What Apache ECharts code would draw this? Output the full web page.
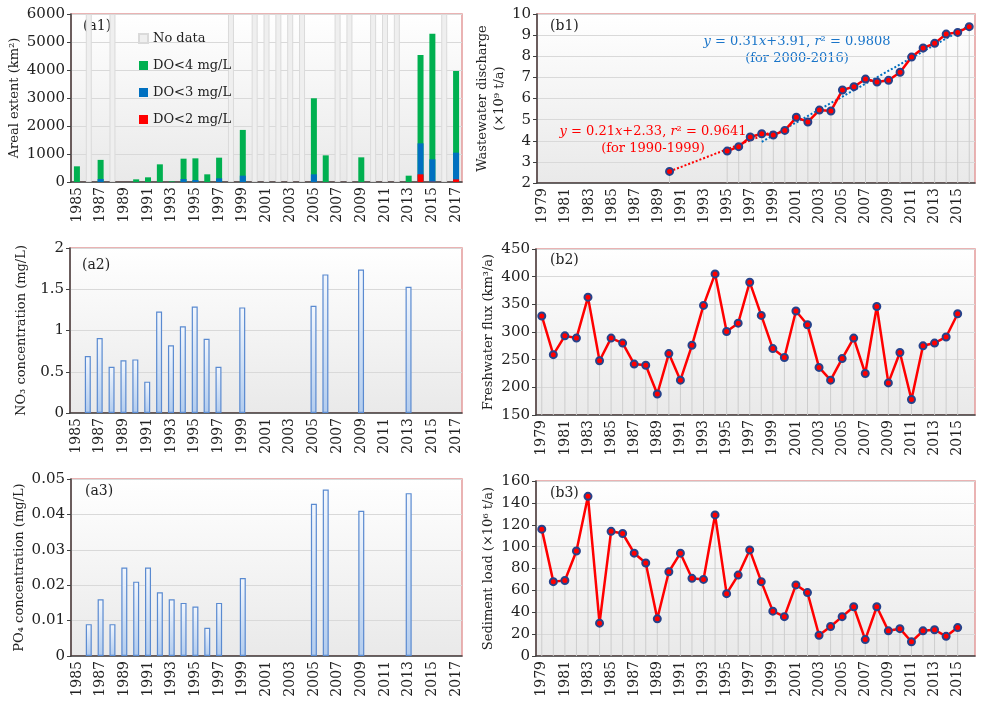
<!DOCTYPE html>
<html>
<head>
<meta charset="utf-8">
<script src="https://cdn.jsdelivr.net/npm/echarts@6/dist/echarts.min.js"></script>
<style>html,body{margin:0;padding:0;background:#fff}#main{width:986px;height:707px}</style>
</head>
<body>
<div id="main"></div>
<script>
const FONT = 'DejaVu Serif';

// categories
const yearsA = [];
for (let y = 1985; y <= 2017; y++) yearsA.push(String(y));
const yearsB = [];
for (let y = 1979; y <= 2016; y++) yearsB.push(String(y));

// (a1) hypoxia areal extent, km2
const noDataYears = [1986, 1988, 1998, 2000, 2001, 2002, 2003, 2004, 2007, 2008, 2010, 2011, 2012, 2016];
const noDataHeight = 6000;
const do4 = [560, null, 790, null, 0, 95, 167, 631, 24, 833, 845, 274, 869, null, 1860,
  null, null, null, null, null, 2990, 952, null, null, 881, null, null, null, 226, 4536, 5298, null, 3964];
const do3 = [null, null, 107, null, null, null, null, null, null, 107, 71, null, 131, null, 226,
  null, null, null, null, null, 274, null, null, null, null, null, null, null, null, 1381, 810, null, 1048];
const do2 = [null, null, null, null, null, null, null, null, null, null, null, null, null, null, null,
  null, null, null, null, null, null, null, null, null, null, null, null, null, null, 274, 10, null, 95];

// (a2) NO3, (a3) PO4, mg/L
const no3 = [null, 0.69, 0.91, 0.56, 0.64, 0.65, 0.38, 1.23, 0.82, 1.05, 1.29, 0.90, 0.56, null, 1.28,
  null, null, null, null, null, 1.30, 1.68, null, null, 1.74, null, null, null, 1.53, null, null, null, null];
const po4 = [null, 0.009, 0.016, 0.009, 0.025, 0.021, 0.025, 0.018, 0.016, 0.015, 0.014, 0.008, 0.015, null, 0.022,
  null, null, null, null, null, 0.043, 0.047, null, null, 0.041, null, null, null, 0.046, null, null, null, null];

// (b1) wastewater discharge, 1979-2016
const wastewater = [null, null, null, null, null, null, null, null, null, null, null, 2.55, null, null, null, null,
  3.51, 3.72, 4.18, 4.33, 4.27, 4.49, 5.11, 4.89, 5.45, 5.41, 6.40, 6.56, 6.92, 6.78, 6.86, 7.24, 7.96, 8.39, 8.61, 9.05, 9.13, 9.40];
const redTrend = [[1990, 2.55], [1999, 4.44]];
const blueTrend = [[1998, 3.95], [2016, 9.45]];

// (b2) freshwater flux, (b3) sediment load, 1979-2015
const freshwater = [329, 259, 293, 289, 363, 248, 289, 280, 242, 240, 188, 261, 213, 276, 348, 405, 301, 316, 390, 330,
  270, 254, 338, 313, 236, 213, 252, 289, 225, 346, 208, 263, 178, 275, 280, 291, 333, null];
const sediment = [116, 68, 69, 96, 146, 30, 114, 112, 94, 85, 34, 77, 94, 71, 70, 129, 57, 74, 97, 68,
  41, 36, 65, 58, 19, 27, 36, 45, 15, 45, 23, 25, 13, 23, 24, 18, 26, null];

const chart = echarts.init(document.getElementById('main'));

const plotBg = new echarts.graphic.LinearGradient(0, 0, 0, 1, [
  {offset: 0, color: '#ffffff'}, {offset: 1, color: '#e9e9e9'}
]);
const barFill = new echarts.graphic.LinearGradient(0, 0, 0, 1, [
  {offset: 0, color: '#f3f7fd'}, {offset: 1, color: '#b2ccee'}
]);

function grid(left, top, width, height) {
  return {left, top, width, height, show: true, backgroundColor: plotBg,
    borderColor: '#e39a9a', borderWidth: 1.5};
}
function xAxis(gi, cats) {
  return {
    type: 'category', gridIndex: gi, data: cats,
    axisLine: {lineStyle: {color: '#404040', width: 1.5}},
    axisTick: {interval: 0, length: 5, lineStyle: {color: '#404040'}},
    axisLabel: {interval: 1, rotate: 90, margin: 5, fontFamily: FONT, fontSize: 14, color: '#222'}
  };
}
function yAxis(gi, min, max, interval, name, gap) {
  return {
    type: 'value', gridIndex: gi, min, max, interval,
    name, nameLocation: 'middle', nameGap: gap,
    nameTextStyle: {fontFamily: FONT, fontSize: 13, color: '#222', lineHeight: 17},
    axisLine: {show: true, lineStyle: {color: '#404040', width: 1.5}},
    axisTick: {show: true, length: 4, lineStyle: {color: '#404040'}},
    axisLabel: {fontFamily: FONT, fontSize: 15, color: '#222', margin: 6, formatter: v => String(v)},
    splitLine: {lineStyle: {color: '#d9d9d9'}}
  };
}
function atYears(cats, pts) {
  return cats.map(c => {
    const p = pts.find(q => String(q[0]) === c);
    return p ? p[1] : null;
  });
}
function dataLine(idx, data) {
  return {
    type: 'line', xAxisIndex: idx, yAxisIndex: idx, data, z: 4,
    symbol: 'circle', symbolSize: 7, connectNulls: false,
    lineStyle: {color: '#ff0000', width: 2.5},
    itemStyle: {color: '#ff0000', borderColor: '#26428b', borderWidth: 2}
  };
}
function dropLines(idx, data) {
  return {type: 'bar', xAxisIndex: idx, yAxisIndex: idx, data, barWidth: 1, silent: true, z: 1,
    itemStyle: {color: '#cdcdcd'}};
}
function nutrientBars(idx, data) {
  return {type: 'bar', xAxisIndex: idx, yAxisIndex: idx, data, barWidth: 6,
    itemStyle: {color: barFill, borderColor: '#5a8ad0', borderWidth: 1.2}};
}
function panelLabel(txt, left, top) {
  return {type: 'text', left, top, style: {text: txt, font: '14px "' + FONT + '"', fill: '#222'}};
}

const a1Bar = (name, data, color, extra) => Object.assign({
  name, type: 'bar', xAxisIndex: 0, yAxisIndex: 0, data, barWidth: 6, barGap: '-100%',
  itemStyle: {color}
}, extra || {});

chart.setOption({
  animation: false,
  grid: [
    grid(71, 14, 391, 168),
    grid(70, 248, 392, 165),
    grid(71, 479, 391, 177),
    grid(537, 14, 438, 169),
    grid(536, 249, 439, 166),
    grid(536, 481, 439, 175)
  ],
  xAxis: [
    xAxis(0, yearsA), xAxis(1, yearsA), xAxis(2, yearsA),
    xAxis(3, yearsB), xAxis(4, yearsB), xAxis(5, yearsB)
  ],
  yAxis: [
    yAxis(0, 0, 6000, 1000, 'Areal extent (km²)', 40),
    yAxis(1, 0, 2, 0.5, 'NO₃ concentration (mg/L)', 40),
    yAxis(2, 0, 0.05, 0.01, 'PO₄ concentration (mg/L)', 41),
    yAxis(3, 2, 10, 1, 'Wastewater discharge\n(×10⁹ t/a)', 26),
    yAxis(4, 150, 450, 50, 'Freshwater flux (km³/a)', 33),
    yAxis(5, 0, 160, 20, 'Sediment load (×10⁶ t/a)', 39)
  ],
  legend: {
    orient: 'vertical', left: 133, top: 27, itemWidth: 9, itemHeight: 9, itemGap: 14,
    icon: 'rect', textStyle: {fontFamily: FONT, fontSize: 13, color: '#222'},
    data: ['No data', 'DO<4 mg/L', 'DO<3 mg/L', 'DO<2 mg/L']
  },
  graphic: [
    panelLabel('(a1)', 83, 19),
    panelLabel('(a2)', 82, 258),
    panelLabel('(a3)', 85, 484),
    panelLabel('(b1)', 550, 19),
    panelLabel('(b2)', 550, 253),
    panelLabel('(b3)', 550, 486),
    {type: 'text', position: [797, 50], style: {
      text: '{i|y} = 0.31{i|x}+3.91, {i|r}² = 0.9808\n(for 2000-2016)', align: 'center', verticalAlign: 'middle',
      font: '13px "' + FONT + '"', fill: '#1a75c9', lineHeight: 17,
      rich: {i: {fontStyle: 'italic', fontFamily: FONT, fontSize: 13, fill: '#1a75c9'}}
    }},
    {type: 'text', position: [653, 140], style: {
      text: '{i|y} = 0.21{i|x}+2.33, {i|r}² = 0.9641\n(for 1990-1999)', align: 'center', verticalAlign: 'middle',
      font: '13px "' + FONT + '"', fill: '#ff0000', lineHeight: 17,
      rich: {i: {fontStyle: 'italic', fontFamily: FONT, fontSize: 13, fill: '#ff0000'}}
    }}
  ],
  series: [
    a1Bar('No data', yearsA.map(y => noDataYears.includes(+y) ? noDataHeight : null), '#efefef',
      {itemStyle: {color: '#efefef', borderColor: '#dadada', borderWidth: 1}}),
    a1Bar('DO<4 mg/L', do4, '#00b050'),
    a1Bar('DO<3 mg/L', do3, '#0070c0'),
    a1Bar('DO<2 mg/L', do2, '#ff0000'),

    nutrientBars(1, no3),
    nutrientBars(2, po4),

    dropLines(3, wastewater),
    {type: 'line', xAxisIndex: 3, yAxisIndex: 3, data: atYears(yearsB, blueTrend), connectNulls: true,
      symbol: 'none', z: 2, lineStyle: {color: '#0070c0', width: 2, type: 'dotted'}},
    {type: 'line', xAxisIndex: 3, yAxisIndex: 3, data: atYears(yearsB, redTrend), connectNulls: true,
      symbol: 'none', z: 3, lineStyle: {color: '#ff0000', width: 2, type: 'dotted'}},
    dataLine(3, wastewater),

    dropLines(4, freshwater),
    dataLine(4, freshwater),

    dropLines(5, sediment),
    dataLine(5, sediment)
  ]
});
</script>
</body>
</html>
